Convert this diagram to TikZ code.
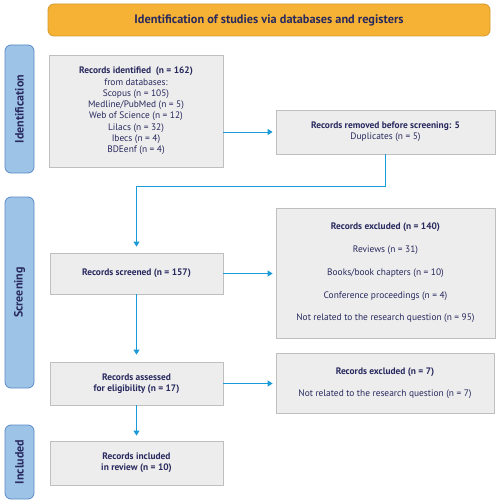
\documentclass[tikz,border=0pt]{standalone}
\usepackage{fontspec}
\setmainfont{PT Sans}
\usepackage{tikz}
\usetikzlibrary{arrows.meta}

\definecolor{navy}{HTML}{28295E}
\definecolor{boxfill}{HTML}{EDEDED}
\definecolor{boxline}{HTML}{BFBFBF}
\definecolor{phasefill}{HTML}{9DC3E6}
\definecolor{phaseline}{HTML}{5B8BC8}
\definecolor{bannerfill}{HTML}{F6B234}
\definecolor{bannerline}{HTML}{D29A2C}
\definecolor{flow}{HTML}{1B9AD8}

\tikzset{
    recbox/.style={draw=boxline, fill=boxfill, line width=0.8pt,
        text=navy, align=center, inner sep=2pt,
        font=\fontsize{9.4}{11.3}\selectfont},
    phase/.style={draw=phaseline, fill=phasefill, line width=0.8pt,
        rounded corners=6pt, rotate=90, text=navy,
        font=\fontsize{12}{13}\selectfont\bfseries},
    flowarrow/.style={draw=flow, line width=0.9pt,
        -{Triangle[width=6pt,length=5pt]}}
}

\begin{document}
\begin{tikzpicture}[x=1pt,y=-1pt]
        \useasboundingbox (0,0) rectangle (500,503);
        % banner on top
        \node[draw=bannerline, fill=bannerfill, line width=0.8pt,
            rounded corners=6pt, minimum width=442pt, minimum height=32pt,
            text=navy, font=\fontsize{12.3}{13}\selectfont\bfseries]
            (top) at (269,20) {Identification of studies via databases and registers};
        % phases at the left
        \foreach \n/\x/\h/\l in{
        ident/{(19.5,109)}/128/{Identification},
        screen/{(19.5,292.5)}/191/{Screening},
        incl/{(19.5,462)}/74/{Included}
        }
        {
            \node[phase, minimum width=\h pt, minimum height=29pt]
            (\n) at \x {\l};
        }
        % records
        \node[recbox, minimum width=174pt, minimum height=112pt] (1) at (136,111)
            {\textbf{Records identified\ \ (n = 162)}\\ from databases:\\
            Scopus (n = 105)\\ Medline/PubMed (n = 5)\\ Web of Science (n = 12)\\
            Lilacs (n = 32)\\ Ibecs (n = 4)\\ BDEenf (n = 4)};
        \node[recbox, minimum width=219pt, minimum height=44pt] (2) at (385.5,132)
            {\textbf{Records removed before screening: 5}\\ Duplicates (n = 5)};
        \node[recbox, minimum width=173pt, minimum height=41pt] (3) at (136.5,273.5)
            {\textbf{Records screened (n = 157)}};
        \node[recbox, minimum width=219pt, minimum height=130pt] (4) at (385.5,273)
            {\textbf{Records excluded (n = 140)}\\[11.4pt] Reviews (n = 31)\\[11.4pt]
            Books/book chapters (n = 10)\\[11.4pt] Conference proceedings (n = 4)\\[11.4pt]
            Not related to the research question (n = 95)};
        \node[recbox, minimum width=173pt, minimum height=43pt] (5) at (136.5,383.5)
            {\textbf{Records assessed}\\ \textbf{for eligibility (n = 17)}};
        \node[recbox, minimum width=218pt, minimum height=60pt] (6) at (385,383)
            {\textbf{Records excluded (n = 7)}\\[10.7pt]
            Not related to the research question (n = 7)};
        \node[recbox, minimum width=173pt, minimum height=44pt] (7) at (136.5,463)
            {\textbf{Records included}\\ \textbf{in review (n = 10)}};
        % connectors
        \draw[flowarrow, shorten >=3pt] (2.west -| 1.east) -- (2.west);
        \draw[flowarrow, shorten >=6pt] (2.south) -- ++(0,32) -| (3.north);
        \draw[flowarrow, shorten >=3pt] (3.east) -- (3.east -| 4.west);
        \draw[flowarrow, shorten >=7pt] (3.south) -- (5.north);
        \draw[flowarrow, shorten >=3pt] (5.east) -- (5.east -| 6.west);
        \draw[flowarrow, shorten >=5pt] (5.south) -- (7.north);
    \end{tikzpicture}
\end{document}
